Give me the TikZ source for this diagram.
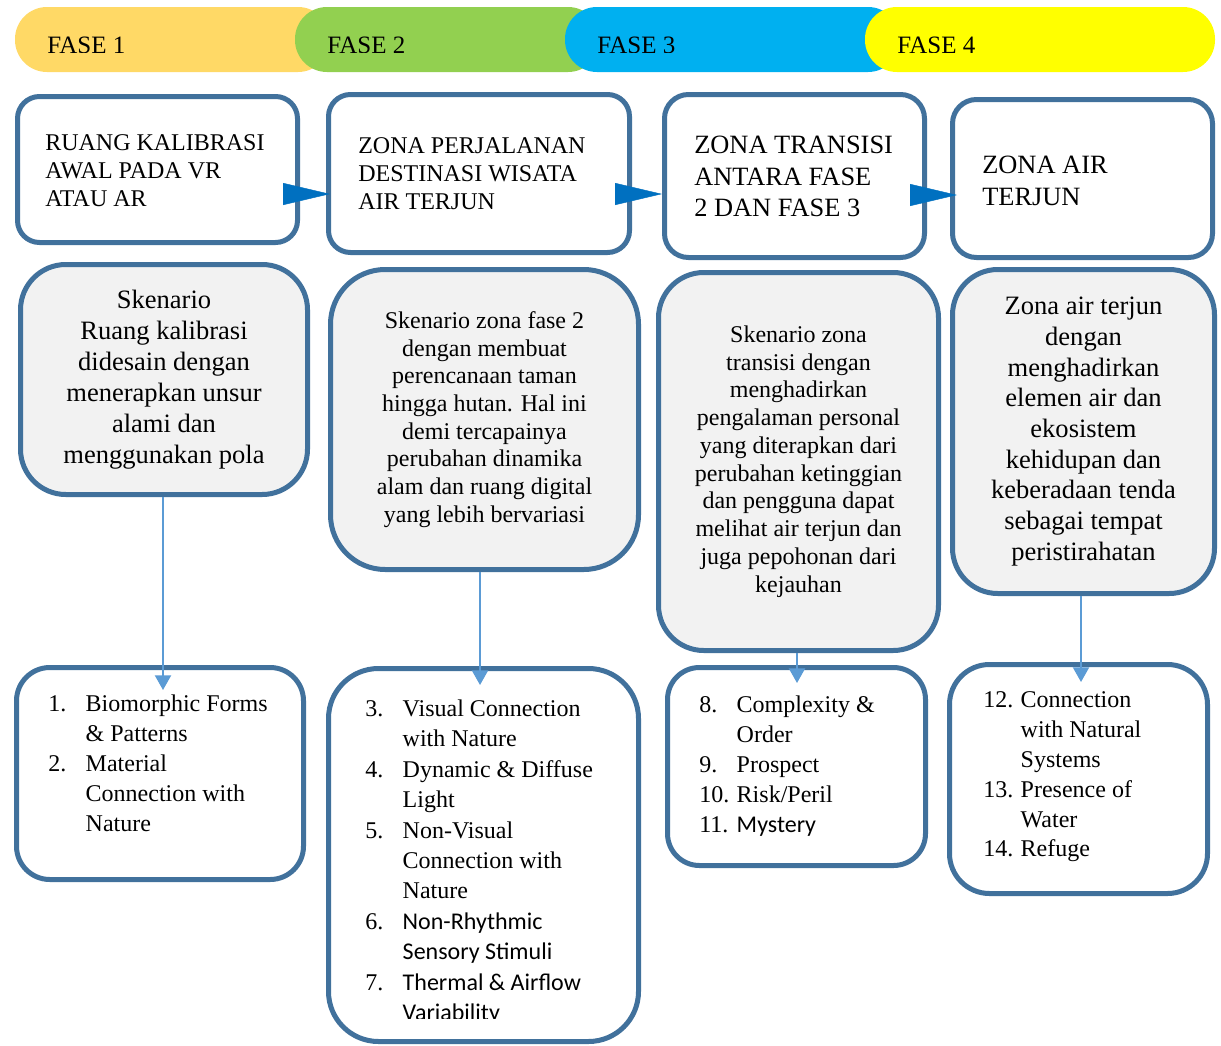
\documentclass[tikz,border=0pt]{standalone}
\usepackage{fontspec}
\setmainfont{Liberation Serif}
\newfontfamily\carl{Carlito}
\usetikzlibrary{arrows.meta,calc}
\definecolor{bord}{RGB}{65,113,156}
\definecolor{grayfill}{RGB}{242,242,242}
\definecolor{fa}{RGB}{255,217,102}
\definecolor{fb}{RGB}{146,208,80}
\definecolor{fc}{RGB}{0,176,240}
\definecolor{fd}{RGB}{255,255,0}
\definecolor{varr}{RGB}{91,155,213}
\definecolor{harr}{RGB}{0,112,192}
\newcommand\itm[1]{\strut\makebox[28.1pt][l]{#1}}
\newcommand\ind{\strut\hspace*{28.1pt}}
\begin{document}
\begin{tikzpicture}[x=0.75pt,y=-0.75pt,
  pill/.style={rounded corners=24pt, inner sep=0, outer sep=0, minimum height=48.75pt},
  fasetxt/.style={anchor=base west, inner sep=0, font=\fontsize{18.75pt}{22pt}\selectfont},
  hdr/.style={draw=bord, line width=3.75pt, fill=white, rounded corners=#1, inner sep=0, outer sep=0},
  hdr/.default=16.5pt,
  hdrtxt/.style={anchor=west, align=left, inner sep=0, font=\fontsize{18pt}{21pt}\selectfont},
  hdrtxtb/.style={anchor=west, align=left, inner sep=0, font=\fontsize{19.8pt}{23.8pt}\selectfont},
  scen/.style={draw=bord, line width=3.75pt, fill=grayfill, rounded corners=#1, align=center, inner sep=0, outer sep=0},
  lst/.style={anchor=west, align=left, inner sep=0, font=\fontsize{18pt}{#1}\selectfont},
  varrow/.style={draw=varr, line width=1.5pt, shorten <=2pt, -{Triangle[length=11pt,width=12pt]}},
  harrow/.style={draw=harr, fill=harr, line width=0.3pt, -{Triangle[length=35.25pt,width=16.5pt]}}
]
\useasboundingbox (0,0) rectangle (1221,1046);
\fill[white] (0,0) rectangle (1221,1046);

% phase bar
\node[pill, fill=fa, minimum width=236.25pt] (P1) at (172.5,39.5) {};
\node[pill, fill=fb, minimum width=228.75pt] (P2) at (447.5,39.5) {};
\node[pill, fill=fc, minimum width=251.25pt] (P3) at (732.5,39.5) {};
\node[pill, fill=fd, minimum width=262.5pt] (P4) at (1040,39.5) {};
\begin{scope}
\clip (0,0) rectangle (1221,52);
\node[fasetxt] (F1t) at (47,53.5) {FASE 1};
\node[fasetxt] (F2t) at (327,53.5) {FASE 2};
\node[fasetxt] (F3t) at (597,53.5) {FASE 3};
\node[fasetxt] (F4t) at (897,53.5) {FASE 4};
\end{scope}

% header boxes
\node[hdr, minimum width=210pt, minimum height=109.5pt] (A1) at (157.5,169.5) {};
\node[hdr, minimum width=225.75pt, minimum height=118.5pt] (A2) at (479,173.5) {};
\node[hdr=18pt, minimum width=195pt, minimum height=122.25pt] (A3) at (794.5,176) {};
\node[hdr=18pt, minimum width=195pt, minimum height=118.5pt] (A4) at (1082.5,178.5) {};
\node[hdrtxt] (A1t) at (45,171) {RUANG KALIBRASI\\AWAL PADA VR\\ATAU AR};
\node[hdrtxt] (A2t) at (358,174) {ZONA PERJALANAN\\DESTINASI WISATA\\AIR TERJUN};
\node[hdrtxtb] (A3t) at (694,176.5) {ZONA TRANSISI\\ANTARA FASE\\2 DAN FASE 3};
\node[hdrtxtb] (A4t) at (982,181) {ZONA AIR\\TERJUN};

% horizontal arrows
\coordinate (h1) at ($(A2.west)+(1.5,20.5)$);
\coordinate (h2) at ($(A3.west)+(-2.5,18)$);
\coordinate (h3) at ($(A4.west)+(4.5,16.5)$);
\draw[harrow] ($(h1)+(-47,0)$) -- (h1);
\draw[harrow] ($(h2)+(-47,0)$) -- (h2);
\draw[harrow] ($(h3)+(-47,0)$) -- (h3);

% scenario boxes
\node[scen=34pt, minimum width=215.25pt, minimum height=172.5pt,
  font=\fontsize{19.9pt}{23.25pt}\selectfont] (B1) at (164,379.5)
  {Skenario\\Ruang kalibrasi\\didesain dengan\\menerapkan unsur\\alami dan\\menggunakan pola};
\node[scen=41pt, minimum width=231pt, minimum height=225pt,
  font=\fontsize{18pt}{20.8pt}\selectfont] (B2) at (484.5,419.5)
  {Skenario zona fase 2\\dengan membuat\\perencanaan taman\\hingga hutan. Hal ini\\demi tercapainya\\perubahan dinamika\\alam dan ruang digital\\yang lebih bervariasi};
\node[scen=34pt, minimum width=210pt, minimum height=283.5pt,
  font=\fontsize{18pt}{20.8pt}\selectfont] (B3) at (798.5,461.5)
  {Skenario zona\\transisi dengan\\menghadirkan\\pengalaman personal\\yang diterapkan dari\\perubahan ketinggian\\dan pengguna dapat\\melihat air terjun dan\\juga pepohonan dari\\kejauhan};
\node[scen=34pt, minimum width=196.5pt, minimum height=243pt,
  font=\fontsize{19.9pt}{23pt}\selectfont] (B4) at (1083.5,431.5)
  {Zona air terjun\\dengan\\menghadirkan\\elemen air dan\\ekosistem\\kehidupan dan\\keberadaan tenda\\sebagai tempat\\peristirahatan};

% list boxes
\node[hdr=25pt, minimum width=215.25pt, minimum height=159pt] (C1) at (160,773.5) {};
\node[hdr=37.5pt, minimum width=232.5pt, minimum height=279.75pt] (C2) at (483.5,855) {};
\node[hdr=24pt, minimum width=193.5pt, minimum height=148.5pt] (C3) at (796.5,766.5) {};
\node[hdr=30pt, minimum width=193.5pt, minimum height=171.75pt] (C4) at (1078.5,779) {};

\node[lst=22.5pt] (C1t) at (48,765.5)
  {\itm{1.}Biomorphic Forms\\\ind\& Patterns\\\itm{2.}Material\\\ind Connection with\\\ind Nature};
\begin{scope}
\clip (300,660) rectangle (660,1018.5);
\node[lst=22.8pt] (C2t) at (365,862.5)
  {\itm{3.}Visual Connection\\\ind with Nature\\\itm{4.}Dynamic \& Diffuse\\\ind Light\\\itm{5.}Non-Visual\\\ind Connection with\\\ind Nature\\\itm{6.}{\carl Non-Rhythmic}\\\ind{\carl Sensory Stimuli}\\\itm{7.}{\carl Thermal \& Airflow}\\\ind{\carl Variability}};
\end{scope}
\node[lst=22.5pt] (C3t) at (699,766)
  {\itm{8.}Complexity \&\\\ind Order\\\itm{9.}Prospect\\\itm{10.}Risk/Peril\\\itm{11.}{\carl Mystery}};
\node[lst=22.35pt] (C4t) at (983,776.5)
  {\itm{12.}Connection\\\ind with Natural\\\ind Systems\\\itm{13.}Presence of\\\ind Water\\\itm{14.}Refuge};

% vertical arrows
\coordinate (t1) at ($(C1.north)+(3,22.5)$);
\coordinate (t2) at ($(C2.north)+(-3.5,16.5)$);
\coordinate (t3) at ($(C3.north)+(0.5,15.5)$);
\coordinate (t4) at ($(C4.north)+(2.5,17.5)$);
\draw[varrow] (B1.south -| t1) -- (t1);
\draw[varrow] (B2.south -| t2) -- (t2);
\draw[varrow] (B3.south -| t3) -- (t3);
\draw[varrow] (B4.south -| t4) -- (t4);
\end{tikzpicture}
\end{document}
